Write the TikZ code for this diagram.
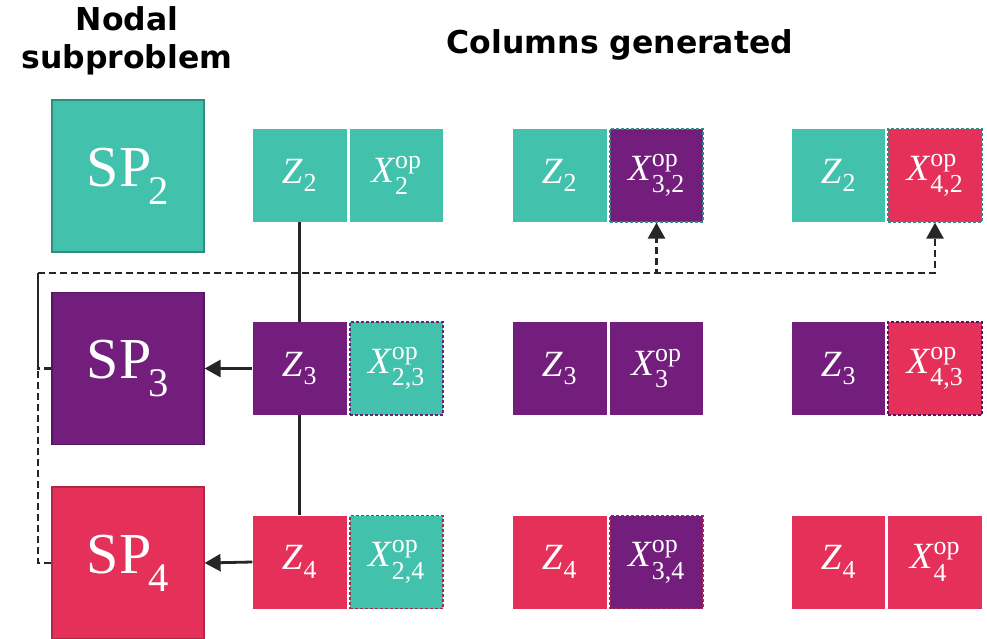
\documentclass[tikz,border=0pt]{standalone}
\usepackage{amsmath}
\usepackage{fontspec}
\setmainfont{Liberation Serif}
\newfontfamily\headfont{DejaVu Sans}
\usetikzlibrary{arrows.meta}

\definecolor{tealc}{HTML}{42C2AC}
\definecolor{tealb}{HTML}{2E8F7E}
\definecolor{purc}{HTML}{731E7C}
\definecolor{purb}{HTML}{561560}
\definecolor{redc}{HTML}{E5315A}
\definecolor{redb}{HTML}{B22646}
\definecolor{linec}{HTML}{262626}

% cell labels: italic variable, upright indices
\newcommand\zlab[1]{\textit{Z}\kern1pt$_{\textup{#1}}$}
\newcommand\xlab[1]{\textit{X}$^{\textup{op}}_{\textup{#1}}$}
\newcommand\splab[1]{SP\kern-3pt$_{\textup{#1}}$}

\begin{document}
\begin{tikzpicture}[x=1pt,y=-1pt,
  spbox/.style={rectangle, minimum width=152pt, minimum height=152pt,
    inner sep=0pt, line width=1.2pt, text=white, font=\fontsize{58}{60}\selectfont},
  cell/.style={rectangle, minimum width=94pt, minimum height=93pt,
    inner sep=0pt, text=white, font=\fontsize{37}{39}\selectfont},
  dashcell/.style={cell, draw, line width=1.3pt, dash pattern=on 3pt off 2pt},
  link/.style={draw=linec, line width=2.8pt},
  dashlink/.style={draw=linec, line width=2.8pt, dash pattern=on 7pt off 4pt},
  tip/.style={-{Triangle[length=16pt,width=17pt]}},
  head/.style={font=\headfont\bfseries\fontsize{31.5}{38}\selectfont, align=center}
]
\useasboundingbox (0,0) rectangle (987,638);

% headings
\node[head] (h1) at (127,41) {Nodal\\subproblem};
\node[head] (h2) at (620,45) {Columns generated};

% nodal subproblems
\node[spbox, fill=tealc, draw=tealb] (SP2) at (128,176) {\splab{2}};
\node[spbox, fill=purc, draw=purb] (SP3) at (128,368.5) {\splab{3}};
\node[spbox, fill=redc, draw=redb] (SP4) at (128,563) {\splab{4}};

% column 1
\node[cell, fill=tealc] (Z12) at (299.5,175.5) {\zlab{2}};
\node[cell, fill=tealc, minimum width=93pt] (X12) at (396.5,175.5) {\xlab{2}};
\node[cell, fill=purc] (Z13) at (299.5,368.5) {\zlab{3}};
\node[dashcell, fill=tealc, draw=purc, minimum width=93pt] (X13) at (396.5,368.5) {\xlab{2,3}};
\node[cell, fill=redc] (Z14) at (299.5,562) {\zlab{4}};
\node[dashcell, fill=tealc, draw=redb, minimum width=93pt] (X14) at (396.5,562) {\xlab{2,4}};

% column 2
\node[cell, fill=tealc] (Z22) at (559.5,175.5) {\zlab{2}};
\node[dashcell, fill=purc, draw=tealb, minimum width=93pt] (X22) at (656.5,175.5) {\xlab{3,2}};
\node[cell, fill=purc] (Z23) at (559.5,368.5) {\zlab{3}};
\node[cell, fill=purc, minimum width=93pt] (X23) at (656.5,368.5) {\xlab{3}};
\node[cell, fill=redc] (Z24) at (559.5,562) {\zlab{4}};
\node[dashcell, fill=purc, draw=redb, minimum width=93pt] (X24) at (656.5,562) {\xlab{3,4}};

% column 3
\node[cell, fill=tealc, minimum width=93pt] (Z32) at (838.5,175.5) {\zlab{2}};
\node[dashcell, fill=redc, draw=tealb] (X32) at (935,175.5) {\xlab{4,2}};
\node[cell, fill=purc, minimum width=93pt] (Z33) at (838.5,368.5) {\zlab{3}};
\node[dashcell, fill=redc, draw=purb] (X33) at (935,368.5) {\xlab{4,3}};
\node[cell, fill=redc, minimum width=93pt] (Z34) at (838.5,562) {\zlab{4}};
\node[cell, fill=redc] (X34) at (935,562) {\xlab{4}};

% coupling lines between the Z blocks
\draw[link] (Z12.south) -- (Z13.north);
\draw[link] (Z13.south) -- (Z14.north);
\draw[link, tip] (Z13.west) -- (SP3.east);
\draw[link, tip] (Z14.west) -- (SP4.east);

% dashed feedback from the subproblems to the new columns
\coordinate (bus) at (38,273);
\draw[dashlink] (SP3.west) -| (bus);
\draw[dashlink] (SP4.west) -| (bus);
\draw[dashlink, tip] (bus) -| (X22.south);
\draw[dashlink, tip] (bus) -| (X32.south);
\end{tikzpicture}
\end{document}
